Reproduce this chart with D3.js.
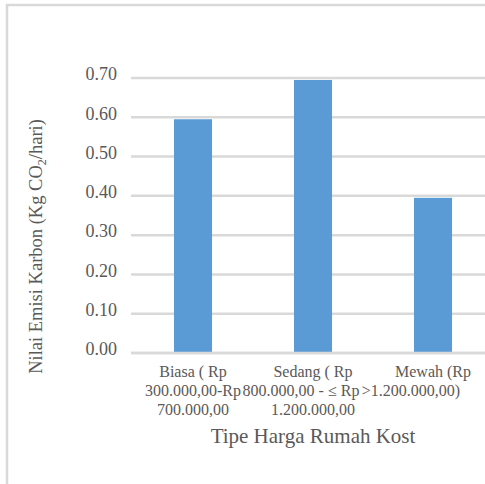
<!DOCTYPE html>
<html>
<head>
<meta charset="utf-8">
<script src="https://cdn.jsdelivr.net/npm/d3@7"></script>
<style>
  html, body { margin: 0; padding: 0; background: #fff; overflow: hidden; }
  svg text { font-family: "Liberation Serif", "Times New Roman", Tinos, "DejaVu Serif", serif; }
</style>
</head>
<body>
<svg id="chart" width="485" height="484"></svg>
<script>
// Carbon emission per boarding-house price class
const categories = ["Biasa", "Sedang", "Mewah"];
const categoryLines = [
  ["Biasa ( Rp", "300.000,00-Rp", "700.000,00"],
  ["Sedang ( Rp", "800.000,00 - \u2264 Rp", "1.200.000,00"],
  ["Mewah (Rp", ">1.200.000,00)"]
];
const emissionValues = [0.595, 0.695, 0.395];
const yTicks = [0.0, 0.1, 0.2, 0.3, 0.4, 0.5, 0.6, 0.7];
const xTitle = "Tipe Harga Rumah Kost";

const svg = d3.select("#chart");
const gridColor = "#d9d9d9";
const textColor = "#595959";

// chart frame
svg.append("rect")
  .attr("x", 7).attr("y", 5)
  .attr("width", 600).attr("height", 600)
  .attr("fill", "#fff")
  .attr("stroke", gridColor)
  .attr("stroke-width", 2.5);

const plot = { left: 133, right: 493, top: 78, bottom: 353 };

const x = d3.scaleBand()
  .domain(categories)
  .range([plot.left, plot.right])
  .paddingInner(0.683)
  .paddingOuter(0.683 / 2);

const y = d3.scaleLinear()
  .domain([0, 0.7])
  .range([plot.bottom, plot.top]);

// horizontal gridlines
svg.append("g")
  .selectAll("line")
  .data(yTicks)
  .join("line")
  .attr("x1", plot.left - 2)
  .attr("x2", plot.right)
  .attr("y1", d => y(d))
  .attr("y2", d => y(d))
  .attr("stroke", gridColor)
  .attr("stroke-width", 2.5);

// y tick labels
const yAxis = d3.axisLeft(y)
  .tickValues(yTicks)
  .tickFormat(d3.format(".2f"))
  .tickSize(0)
  .tickPadding(16);

const yAxisG = svg.append("g")
  .attr("transform", `translate(${plot.left},0)`)
  .call(yAxis)
  .attr("font-family", null);
yAxisG.select(".domain").remove();
yAxisG.selectAll("text")
  .attr("font-size", 18)
  .attr("fill", textColor)
  .attr("dy", "0.1em");

// bars
svg.append("g")
  .selectAll("rect")
  .data(emissionValues)
  .join("rect")
  .attr("x", (d, i) => x(categories[i]))
  .attr("width", x.bandwidth())
  .attr("y", d => y(d))
  .attr("height", d => y(0) - y(d))
  .attr("fill", "#5b9bd5");

// baseline
svg.append("line")
  .attr("x1", plot.left - 2)
  .attr("x2", plot.right)
  .attr("y1", y(0))
  .attr("y2", y(0))
  .attr("stroke", gridColor)
  .attr("stroke-width", 2.5);

// wrapped category labels
const lineShift = [[0, 0, 0], [0, -12, -22], [0, 0, 0]];
const labelG = svg.append("g")
  .attr("font-size", 16)
  .attr("fill", textColor)
  .attr("text-anchor", "middle");

categories.forEach((c, i) => {
  const cx = x(c) + x.bandwidth() / 2;
  categoryLines[i].forEach((line, j) => {
    labelG.append("text")
      .attr("x", cx + lineShift[j][i])
      .attr("y", y(0) + 24 + j * 19)
      .text(line);
  });
});

// x axis title
svg.append("text")
  .attr("x", (plot.left + plot.right) / 2)
  .attr("y", 443)
  .attr("text-anchor", "middle")
  .attr("font-size", 21)
  .attr("fill", textColor)
  .text(xTitle);

// y axis title
const yTitle = svg.append("text")
  .attr("transform", "translate(42,246.5) rotate(-90)")
  .attr("text-anchor", "middle")
  .attr("font-size", 18.5)
  .attr("fill", textColor);
yTitle.append("tspan").text("Nilai Emisi Karbon (Kg CO");
yTitle.append("tspan").attr("font-size", 12).attr("dy", 4).text("2");
yTitle.append("tspan").attr("dy", -4).text("/hari)");
</script>
</body>
</html>
